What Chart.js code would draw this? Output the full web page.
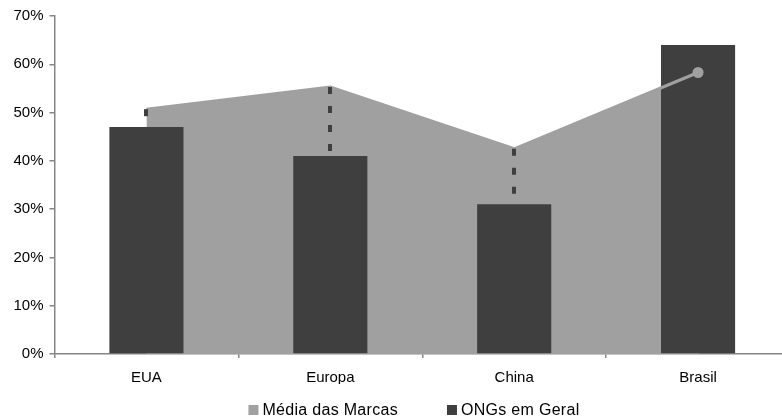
<!DOCTYPE html>
<html>
<head>
<meta charset="utf-8">
<script src="https://cdn.jsdelivr.net/npm/chart.js@4/dist/chart.umd.min.js"></script>
<style>
  html, body { margin: 0; padding: 0; background: #fff; overflow: hidden; }
  #wrap { width: 828px; height: 419px; }
</style>
</head>
<body>
<div id="wrap"><canvas id="c" width="828" height="419"></canvas></div>
<script>
// Regions
const categories = ['EUA', 'Europa', 'China', 'Brasil'];
// Average of brands (%), drawn as a filled area
const mediaMarcas = [50.7, 55.3, 42.5, 58.3];
// NGOs in general (%), drawn as bars
const ongsGeral = [47, 41, 31, 64];
// Y axis tick values (%)
const yTicks = [0, 10, 20, 30, 40, 50, 60, 70];

const FONT = '"Liberation Sans", Arial, sans-serif';
const AXIS_GRAY = '#868686';
const AREA_GRAY = '#a0a0a0';
const BAR_DARK = '#3f3f3f';

// Dashed drop lines from the area down to each lower bar
const dropLines = {
  id: 'dropLines',
  afterDatasetsDraw(chart) {
    const { ctx, scales: { x, y } } = chart;
    ctx.save();
    ctx.strokeStyle = BAR_DARK;
    ctx.lineWidth = 4;
    ctx.lineCap = 'butt';
    ctx.setLineDash([7, 12]);
    categories.forEach((c, i) => {
      const hi = mediaMarcas[i], lo = ongsGeral[i];
      if (hi <= lo) return;
      const px = Math.round(x.getPixelForValue(i));
      ctx.beginPath();
      ctx.moveTo(px, y.getPixelForValue(hi));
      ctx.lineTo(px, y.getPixelForValue(lo));
      ctx.stroke();
    });
    ctx.restore();
  }
};

// Legend drawn below the axis, centred on the whole chart block
const bottomLegend = {
  id: 'bottomLegend',
  afterDraw(chart, args, opts) {
    const { ctx } = chart;
    const items = chart.data.datasets
      .filter(d => d.showInLegend)
      .map(d => ({ text: d.label, color: d.backgroundColor }));
    ctx.save();
    ctx.font = '16px ' + FONT;
    ctx.letterSpacing = '0.3px';
    ctx.textBaseline = 'middle';
    ctx.textAlign = 'left';
    const box = 10, boxGap = 4, itemGap = 49;
    const widths = items.map(it => box + boxGap + ctx.measureText(it.text).width);
    const total = widths.reduce((a, b) => a + b, 0) + itemGap * (items.length - 1);
    let x = opts.centerX - total / 2;
    const y = opts.centerY;
    items.forEach((it, i) => {
      ctx.fillStyle = it.color;
      ctx.fillRect(x, y - box / 2, box, box);
      ctx.fillStyle = '#000';
      ctx.fillText(it.text, x + box + boxGap, y + 1);
      x += widths[i] + itemGap;
    });
    ctx.restore();
  }
};

new Chart(document.getElementById('c'), {
  data: {
    labels: categories,
    datasets: [
      {
        type: 'line',
        label: 'Média das Marcas',
        showInLegend: true,
        data: mediaMarcas,
        backgroundColor: AREA_GRAY,
        borderColor: AREA_GRAY,
        borderWidth: 1,
        fill: 'origin',
        pointRadius: 0,
        tension: 0,
        order: 3
      },
      {
        type: 'bar',
        label: 'ONGs em Geral',
        showInLegend: true,
        data: ongsGeral,
        backgroundColor: BAR_DARK,
        borderWidth: 0,
        barPercentage: 0.403,
        categoryPercentage: 1,
        order: 2
      },
      {
        type: 'line',
        label: 'Média das Marcas (linha)',
        showInLegend: false,
        data: mediaMarcas,
        borderColor: AREA_GRAY,
        borderWidth: 3,
        fill: false,
        tension: 0,
        pointRadius: [0, 0, 0, 5.5],
        pointBackgroundColor: AREA_GRAY,
        pointBorderWidth: 0,
        order: 1
      }
    ]
  },
  options: {
    responsive: false,
    animation: false,
    devicePixelRatio: 1,
    layout: { padding: { left: 0, right: 38, top: 16, bottom: 35 } },
    plugins: {
      tooltip: { enabled: false },
      legend: { display: false },
      bottomLegend: { centerX: 414, centerY: 410 }
    },
    scales: {
      x: {
        offset: true,
        grid: { display: true, drawOnChartArea: false, drawTicks: true, tickLength: 4, color: AXIS_GRAY, lineWidth: 1.5, offset: true },
        border: { display: true, color: AXIS_GRAY, width: 1.5 },
        ticks: { color: '#000', font: { family: FONT, size: 15 }, padding: 11, maxRotation: 0 },
        afterFit(s) { s.height = 30; }
      },
      y: {
        min: 0,
        max: 70,
        afterBuildTicks(s) { s.ticks = yTicks.map(v => ({ value: v })); },
        grid: { display: true, drawOnChartArea: false, drawTicks: true, tickLength: 5, color: AXIS_GRAY, lineWidth: 1.5 },
        border: { display: true, color: AXIS_GRAY, width: 1.5 },
        ticks: { color: '#000', font: { family: FONT, size: 15 }, padding: 6, callback: v => v + '%' },
        afterFit(s) { s.width = 54.5; }
      }
    }
  },
  plugins: [dropLines, bottomLegend]
});
</script>
</body>
</html>
